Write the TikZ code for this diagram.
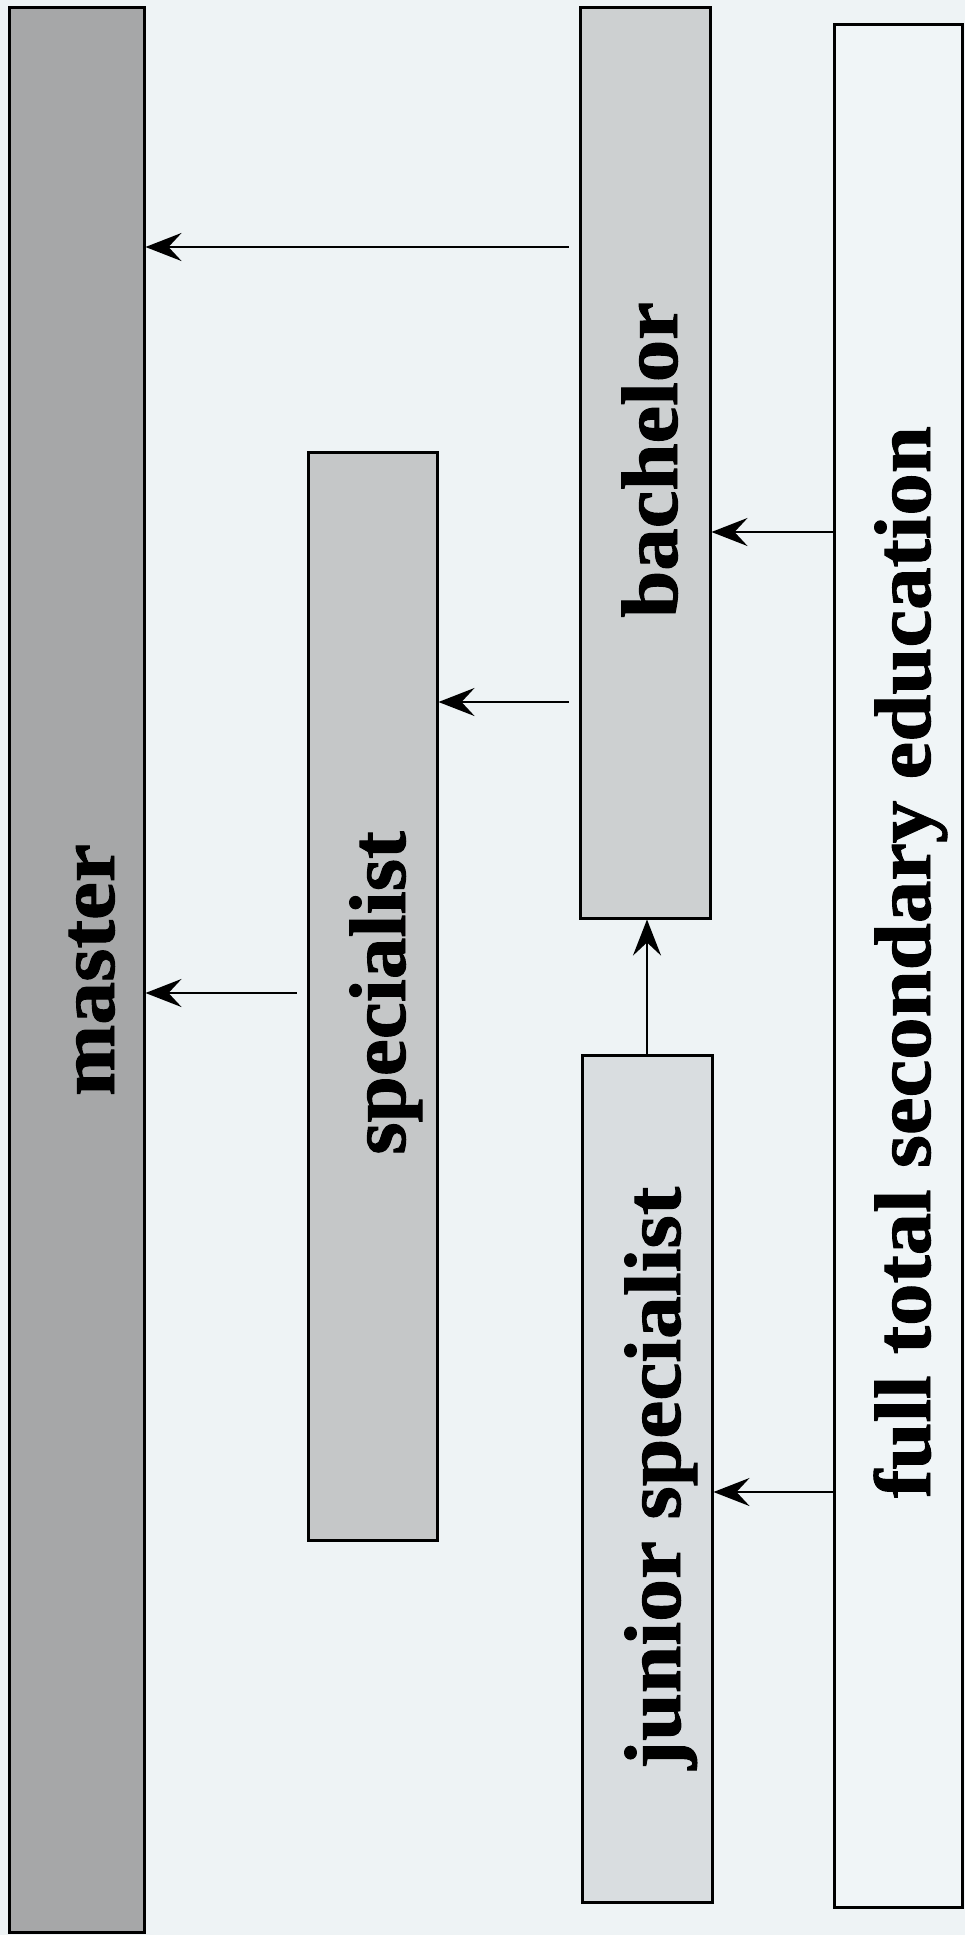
\documentclass[tikz,border=0pt]{standalone}
\usepackage{fontspec}
\setmainfont{Liberation Serif}[BoldFeatures={FakeBold=1.2}]
\usetikzlibrary{arrows.meta}

\definecolor{paper}{HTML}{EEF3F5}
\definecolor{masterfill}{HTML}{A6A7A8}
\definecolor{specfill}{HTML}{C5C7C8}
\definecolor{bachfill}{HTML}{CDD0D1}
\definecolor{juniorfill}{HTML}{D9DDE0}
\definecolor{basefill}{HTML}{F0F5F7}

\begin{document}
\begin{tikzpicture}[x=1pt,y=-1pt,
  box/.style={draw=black, line width=3pt, inner sep=0pt, rectangle},
  lbl/.style={rotate=90, anchor=base, inner sep=0pt,
              font=\fontsize{80}{90}\selectfont\bfseries},
  arr/.style={line width=2.8pt, -{Stealth[length=36pt,width=28pt,inset=13pt]}}]

\useasboundingbox (0,0) rectangle (965,1935);
\fill[paper] (0,0) rectangle (965,1935);

% degree columns
\node[box, fill=masterfill, minimum width=135pt, minimum height=1924pt] (master) at (76.5,970) {};
\node[box, fill=specfill,   minimum width=129pt, minimum height=1088pt] (spec)   at (372.5,996) {};
\node[box, fill=bachfill,   minimum width=130pt, minimum height=910pt]  (bach)   at (645,463) {};
\node[box, fill=juniorfill, minimum width=130pt, minimum height=847pt]  (junior) at (647,1478.5) {};
\node[box, fill=basefill,   minimum width=128pt, minimum height=1882pt] (base)   at (898,966) {};

% rotated labels
\node[lbl] (masterlbl) at (114,970)  {\scalebox{1.07}[1]{master}};
\node[lbl] (speclbl)   at (405,993)  {\scalebox{1.04}[1]{specialist}};
\node[lbl] (bachlbl)   at (677,460)  {\scalebox{1.06}[1]{bachelor}};
\node[lbl] (juniorlbl) at (680,1478) {\scalebox{1.07}[1]{junior specialist}};
\node[lbl] (baselbl)   at (930,962)  {\scalebox{1.06}[1]{full total secondary education}};

% heights of the horizontal connectors
\coordinate (yBM) at (0,247);
\coordinate (yFB) at (0,532);
\coordinate (yBS) at (0,702);
\coordinate (ySM) at (0,993);
\coordinate (yFJ) at (0,1492);

\draw[arr, shorten <=10pt] (bach.west |- yBM) -- (master.east |- yBM);
\draw[arr, shorten <=10pt] (spec.west |- ySM) -- (master.east |- ySM);
\draw[arr, shorten <=10pt] (bach.west |- yBS) -- (spec.east |- yBS);
\draw[arr] (base.west |- yFB) -- (bach.east |- yFB);
\draw[arr] (base.west |- yFJ) -- (junior.east |- yFJ);
\draw[arr] (junior.north) -- (junior.north |- bach.south);

\end{tikzpicture}
\end{document}
